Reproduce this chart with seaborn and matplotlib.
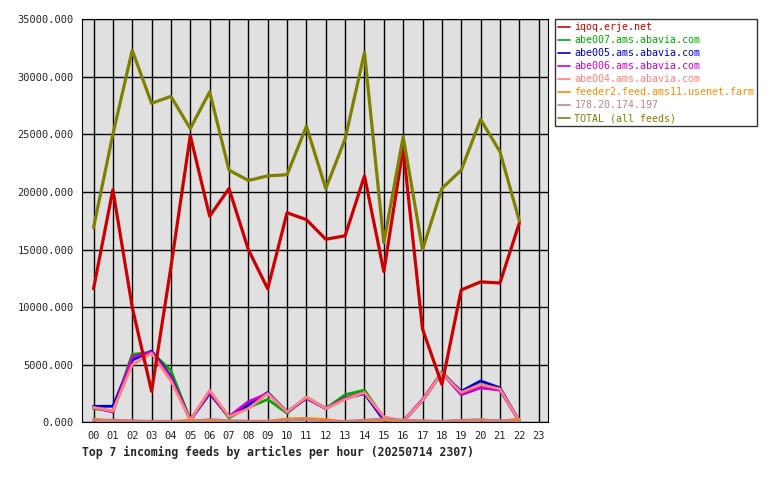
import matplotlib
matplotlib.use("Agg")
import matplotlib.pyplot as plt
import seaborn as sns
import pandas as pd

hours = list(range(23))
iqoq = [11600, 20200, 10000, 2700, 13500, 24900, 17900, 20300, 15000, 11600, 18200, 17600,
        15900, 16200, 21400, 13100, 23800, 8100, 3300, 11500, 12200, 12100, 17300]
abe007 = [1200, 1000, 5900, 6100, 4500, 200, 2600, 400, 1300, 2000, 800, 2200,
          1200, 2400, 2800, 400, 100, 1900, 4400, 2600, 3300, 2900, 100]
abe005 = [1400, 1400, 5400, 6200, 4000, 200, 2500, 500, 1500, 2600, 900, 2100,
          1200, 2100, 2500, 200, 100, 1900, 4300, 2700, 3600, 3000, 100]
abe006 = [1300, 900, 5700, 6100, 3900, 200, 2600, 500, 1800, 2500, 900, 2100,
          1200, 2100, 2600, 400, 100, 2000, 4300, 2400, 3000, 2800, 100]
abe004 = [1300, 1000, 5000, 6000, 3600, 200, 2800, 500, 1200, 2500, 900, 2200,
          1200, 2000, 2600, 500, 100, 1900, 4300, 2600, 3300, 2900, 100]
feeder2 = [300, 100, 100, 50, 50, 200, 150, 100, 100, 100, 300, 350,
           250, 50, 100, 200, 100, 50, 50, 150, 250, 100, 300]
ip178 = [200, 200, 150, 100, 100, 100, 250, 150, 100, 100, 200, 250,
         100, 100, 200, 300, 200, 150, 100, 200, 200, 150, 150]
total = [16900, 25000, 32300, 27700, 28300, 25500, 28700, 21900, 21000, 21400, 21500, 25700,
         20300, 24600, 32100, 15600, 24800, 15000, 20300, 21900, 26300, 23500, 17500]

names = ["iqoq.erje.net", "abe007.ams.abavia.com", "abe005.ams.abavia.com",
         "abe006.ams.abavia.com", "abe004.ams.abavia.com",
         "feeder2.feed.ams11.usenet.farm", "178.20.174.197", "TOTAL (all feeds)"]
series = [iqoq, abe007, abe005, abe006, abe004, feeder2, ip178, total]
colors = ["#cc0000", "#00aa00", "#0000cc", "#cc00cc", "#ff8080", "#ff8800", "#c88080", "#808000"]

rows = []
for n, s in zip(names, series):
    for h, v in zip(hours, s):
        rows.append({"hour": h, "feed": n, "articles": v})
df = pd.DataFrame(rows)

sns.set_style("white")
plt.rcParams['font.family'] = ['DejaVu Sans Mono']
fig = plt.figure(figsize=(7.8, 4.8), dpi=100)
ax = fig.add_axes([0.105, 0.12, 0.598, 0.84])
ax.set_facecolor("#e0e0e0")
order = [1, 2, 3, 4, 5, 6, 0, 7]
for i in order:
    sub = df[df.feed == names[i]]
    sns.lineplot(data=sub, x="hour", y="articles", ax=ax, color=colors[i],
                 lw=2.3 if i in (0, 7) else 2.0, label=names[i])
ax.set_xlim(-0.6, 23.5)
ax.set_ylim(0, 35000)
ax.set_xticks(range(24))
ax.set_xticklabels([f"{h:02d}" for h in range(24)], fontsize=7.5)
ax.set_yticks(range(0, 35001, 5000))
ax.set_yticklabels([f"{v}.000" for v in range(0, 35001, 5000)], fontsize=7.5)
ax.tick_params(length=4, width=1, pad=2)
ax.grid(True, color="black", lw=1)
ax.set_axisbelow(True)
ax.set_xlabel("")
ax.set_ylabel("")
for s in ax.spines.values():
    s.set_color("black")
h, l = ax.get_legend_handles_labels()
lm = dict(zip(l, h))
leg = ax.legend([lm[n] for n in names], names, loc="upper left", bbox_to_anchor=(1.015, 1.0),
                fontsize=7.2, frameon=True, fancybox=False, edgecolor="black",
                handlelength=1.2, handletextpad=0.4, borderaxespad=0, labelspacing=0.3,
                borderpad=0.3)
for t, c in zip(leg.get_texts(), colors):
    t.set_color(c)
for ln in leg.get_lines():
    ln.set_linewidth(1.2)
fig.text(0.105, 0.058, "Top 7 incoming feeds by articles per hour (20250714 2307)",
         fontsize=8.3, fontweight="bold", va="center")
fig.savefig("out.png", dpi=100, facecolor="white")
